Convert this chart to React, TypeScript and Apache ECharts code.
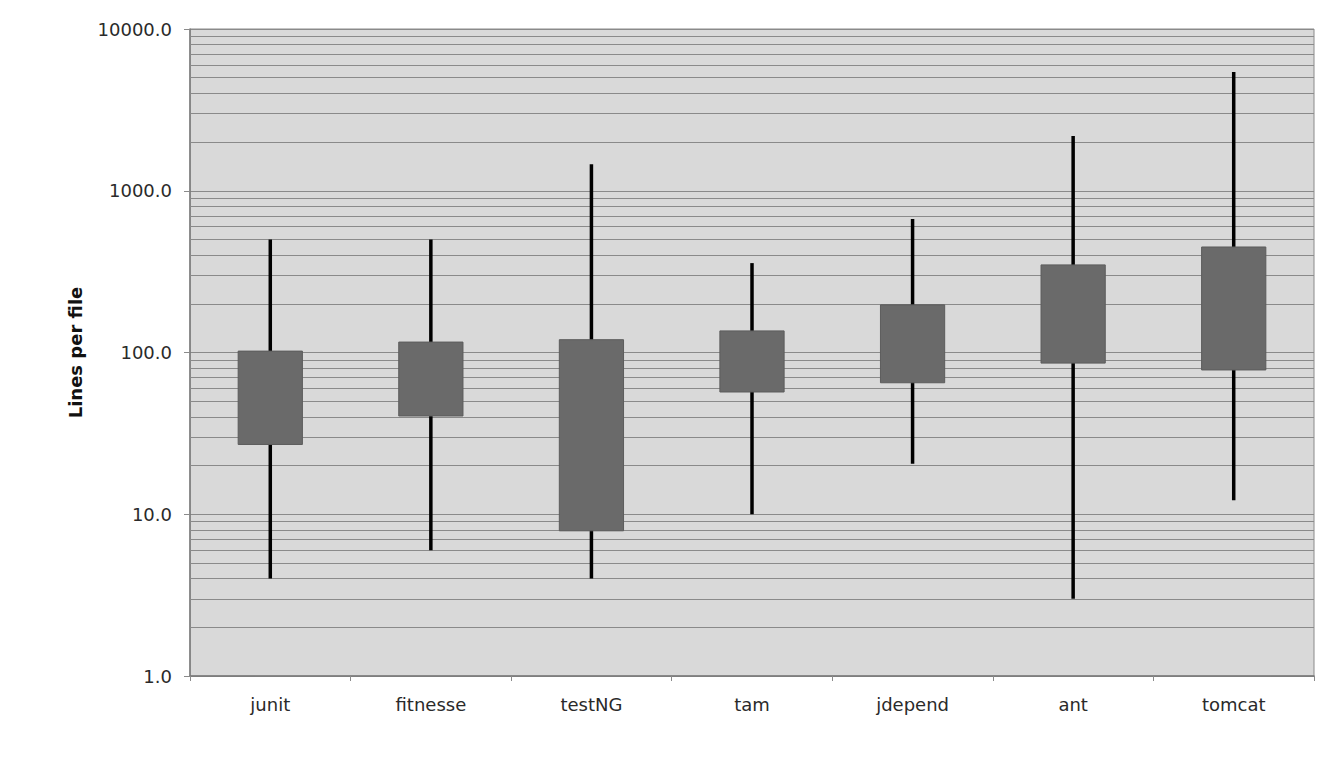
import React, { useEffect, useRef } from "react";
import * as echarts from "echarts";

const categories = ["junit", "fitnesse", "testNG", "tam", "jdepend", "ant", "tomcat"];
// [min, q1, q3, max]
const mins = [4, 6, 4, 10, 20.5, 3, 12.2];
const q1s = [27, 40.5, 7.9, 57, 65, 86, 78];
const q3s = [102, 116, 120, 136, 197, 348, 449];
const maxs = [500, 500, 1460, 357, 670, 2180, 5420];
const yTicks = [1, 10, 100, 1000, 10000];
const gridValues = [
  2, 3, 4, 5, 6, 7, 8, 9,
  20, 30, 40, 50, 60, 70, 80, 90,
  200, 300, 400, 500, 600, 700, 800, 900,
  2000, 3000, 4000, 5000, 6000, 7000, 8000, 9000,
];

export default function App() {
  const ref = useRef<HTMLDivElement>(null);
  useEffect(() => {
    document.body.style.margin = "0";
    const chart = echarts.init(ref.current!, null, { renderer: "svg" });
    const data = categories.map((_, i) => [i, mins[i], q1s[i], q3s[i], maxs[i]]);
    const font = "'DejaVu Sans', Verdana, sans-serif";
    chart.setOption({
      animation: false,
      backgroundColor: "#ffffff",
      grid: {
        left: 190,
        right: 6,
        top: 29,
        bottom: 86,
        show: true,
        backgroundColor: "#d9d9d9",
        borderColor: "#8a8a8a",
        borderWidth: 1,
      },
      xAxis: {
        type: "category",
        data: categories,
        boundaryGap: true,
        axisLine: { lineStyle: { color: "#7a7a7a", width: 1.5 } },
        axisTick: { show: true, length: 5, lineStyle: { color: "#8a8a8a" } },
        axisLabel: { color: "#2a2a2a", fontFamily: font, fontSize: 18, margin: 19 },
        splitLine: { show: false },
      },
      yAxis: {
        type: "log",
        logBase: 10,
        min: yTicks[0],
        max: yTicks[yTicks.length - 1],
        name: "Lines per file",
        nameLocation: "middle",
        nameGap: 106,
        nameTextStyle: { color: "#111", fontFamily: font, fontSize: 18, fontWeight: "bold" },
        axisLine: { show: true, lineStyle: { color: "#7a7a7a", width: 1.5 } },
        axisTick: { show: true, length: 6, lineStyle: { color: "#8a8a8a" } },
        axisLabel: {
          color: "#2a2a2a",
          fontFamily: font,
          fontSize: 18,
          margin: 18,
          formatter: (v: number) => Number(v).toFixed(1),
        },
        splitLine: { show: true, lineStyle: { color: "#8a8a8a", width: 1.2 } },
      },
      series: [
        {
          type: "custom",
          z: 3,
          data,
          renderItem: (params: any, api: any) => {
            const i = api.value(0);
            const lo = api.coord([i, api.value(1)]);
            const q1 = api.coord([i, api.value(2)]);
            const q3 = api.coord([i, api.value(3)]);
            const hi = api.coord([i, api.value(4)]);
            const step = api.coord([1, 10])[0] - api.coord([0, 10])[0];
            const w = step * 0.4;
            return {
              type: "group",
              children: [
                {
                  type: "line",
                  shape: { x1: lo[0], y1: lo[1], x2: hi[0], y2: hi[1] },
                  style: { stroke: "#000000", lineWidth: 3.5 },
                },
                {
                  type: "rect",
                  shape: { x: q3[0] - w / 2, y: q3[1], width: w, height: q1[1] - q3[1] },
                  style: { fill: "#6a6a6a", stroke: "#5c5c5c", lineWidth: 1 },
                },
              ],
            };
          },
          markLine: {
            silent: true,
            z: 1,
            symbol: "none",
            label: { show: false },
            lineStyle: { color: "#8a8a8a", width: 1.2, type: "solid" },
            data: gridValues.map((v) => ({ yAxis: v })),
          },
        },
      ],
    });
    return () => chart.dispose();
  }, []);
  return <div ref={ref} style={{ width: 1320, height: 762 }} />;
}
